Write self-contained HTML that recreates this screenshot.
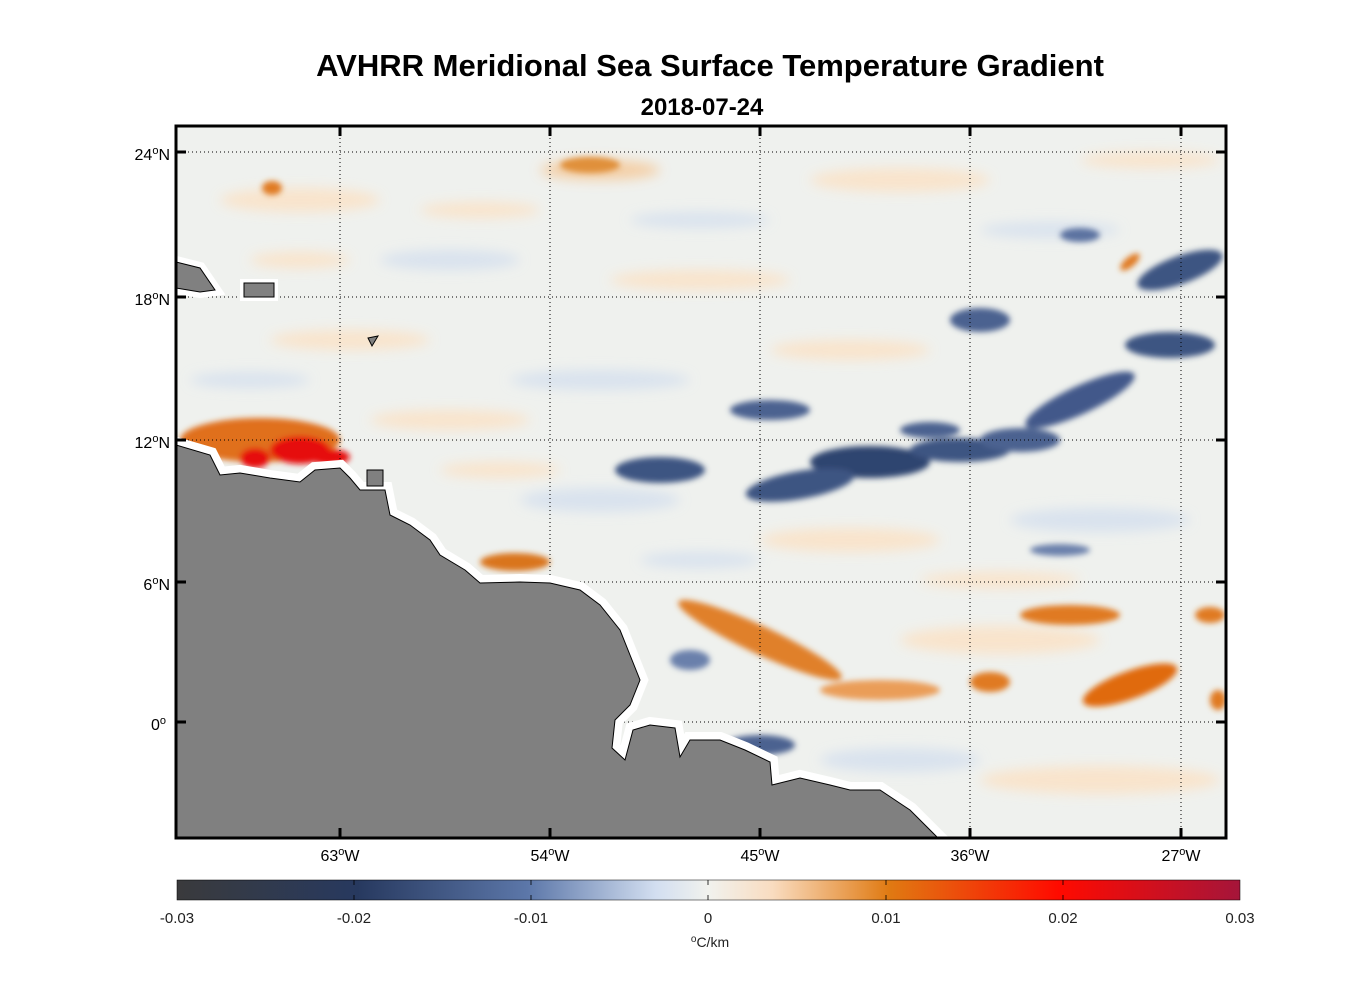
<!DOCTYPE html>
<html><head><meta charset="utf-8"><style>
body{margin:0;background:#fff;width:1356px;height:1000px;overflow:hidden;font-family:"Liberation Sans",sans-serif}
</style></head><body>
<svg width="1356" height="1000" viewBox="0 0 1356 1000" xmlns="http://www.w3.org/2000/svg" font-family="Liberation Sans, sans-serif">
<defs>
<filter id="b1" x="-50%" y="-50%" width="200%" height="200%"><feGaussianBlur stdDeviation="6"/></filter>
<filter id="b2" x="-50%" y="-50%" width="200%" height="200%"><feGaussianBlur stdDeviation="3"/></filter>
<clipPath id="c"><rect x="176" y="126" width="1050" height="712"/></clipPath>
<linearGradient id="cb" x1="0" x2="1">
<stop offset="0" stop-color="#3a3a3c"/><stop offset="0.17" stop-color="#27395f"/><stop offset="0.33" stop-color="#5c77a9"/>
<stop offset="0.45" stop-color="#d2def0"/><stop offset="0.5" stop-color="#f1f2ee"/><stop offset="0.56" stop-color="#f9dcc0"/>
<stop offset="0.67" stop-color="#e07a12"/><stop offset="0.83" stop-color="#ff0a00"/><stop offset="1" stop-color="#a5153a"/>
</linearGradient>
</defs>
<text x="710" y="76" text-anchor="middle" font-size="31" font-weight="bold">AVHRR Meridional Sea Surface Temperature Gradient</text>
<text x="702" y="115" text-anchor="middle" font-size="24" font-weight="bold">2018-07-24</text>
<g clip-path="url(#c)">
<rect x="176" y="126" width="1050" height="712" fill="#eff1ee"/>
<g filter="url(#b1)" opacity="0.85">
<ellipse cx="300" cy="200" rx="80" ry="12" fill="#fbe2c6"/>
<ellipse cx="600" cy="170" rx="60" ry="10" fill="#f5c99a"/>
<ellipse cx="900" cy="180" rx="90" ry="12" fill="#fbe2c6"/>
<ellipse cx="450" cy="260" rx="70" ry="10" fill="#d5e0ee"/>
<ellipse cx="700" cy="280" rx="90" ry="10" fill="#fbe2c6"/>
<ellipse cx="350" cy="340" rx="80" ry="10" fill="#fbe2c6"/>
<ellipse cx="600" cy="380" rx="90" ry="10" fill="#d5e0ee"/>
<ellipse cx="850" cy="350" rx="80" ry="10" fill="#fbe2c6"/>
<ellipse cx="450" cy="420" rx="80" ry="10" fill="#fbe2c6"/>
<ellipse cx="600" cy="500" rx="80" ry="12" fill="#d5e0ee"/>
<ellipse cx="850" cy="540" rx="90" ry="12" fill="#fbe2c6"/>
<ellipse cx="1100" cy="520" rx="90" ry="12" fill="#d5e0ee"/>
<ellipse cx="1000" cy="640" rx="100" ry="14" fill="#fbe2c6"/>
<ellipse cx="1100" cy="780" rx="120" ry="14" fill="#fbe2c6"/>
<ellipse cx="900" cy="760" rx="80" ry="12" fill="#d5e0ee"/>
<ellipse cx="480" cy="210" rx="60" ry="8" fill="#fbe2c6"/>
<ellipse cx="700" cy="220" rx="70" ry="8" fill="#d5e0ee"/>
<ellipse cx="1050" cy="230" rx="70" ry="8" fill="#d5e0ee"/>
<ellipse cx="250" cy="380" rx="60" ry="8" fill="#d5e0ee"/>
<ellipse cx="500" cy="470" rx="60" ry="8" fill="#fbe2c6"/>
<ellipse cx="1000" cy="580" rx="80" ry="8" fill="#fbe2c6"/>
<ellipse cx="700" cy="560" rx="60" ry="8" fill="#d5e0ee"/>
<ellipse cx="1150" cy="160" rx="70" ry="8" fill="#fbe2c6"/>
<ellipse cx="300" cy="260" rx="50" ry="8" fill="#fbe2c6"/>
</g>
<g filter="url(#b2)">
<ellipse cx="1180" cy="270" rx="45" ry="14" fill="#3e5482" transform="rotate(-20 1180 270)"/>
<ellipse cx="980" cy="320" rx="30" ry="12" fill="#4c6290"/>
<ellipse cx="1170" cy="345" rx="45" ry="13" fill="#3e5482"/>
<ellipse cx="1080" cy="400" rx="60" ry="14" fill="#42588a" transform="rotate(-25 1080 400)"/>
<ellipse cx="1080" cy="235" rx="20" ry="7" fill="#5c72a0"/>
<ellipse cx="770" cy="410" rx="40" ry="10" fill="#4c6290"/>
<ellipse cx="660" cy="470" rx="45" ry="13" fill="#3e5482"/>
<ellipse cx="870" cy="462" rx="60" ry="16" fill="#2f4470"/>
<ellipse cx="800" cy="485" rx="55" ry="14" fill="#3e5482" transform="rotate(-10 800 485)"/>
<ellipse cx="960" cy="450" rx="50" ry="12" fill="#3e5482"/>
<ellipse cx="1020" cy="440" rx="40" ry="12" fill="#4c6290"/>
<ellipse cx="930" cy="430" rx="30" ry="8" fill="#4c6290"/>
<ellipse cx="1060" cy="550" rx="30" ry="6" fill="#6b80ab"/>
<ellipse cx="760" cy="745" rx="35" ry="10" fill="#4c6290"/>
<ellipse cx="690" cy="660" rx="20" ry="10" fill="#6b80ab"/>
<ellipse cx="760" cy="640" rx="90" ry="14" fill="#e0802a" transform="rotate(25 760 640)"/>
<ellipse cx="880" cy="690" rx="60" ry="10" fill="#ea9d58"/>
<ellipse cx="1070" cy="615" rx="50" ry="10" fill="#e07a20"/>
<ellipse cx="1130" cy="685" rx="50" ry="14" fill="#e06a10" transform="rotate(-20 1130 685)"/>
<ellipse cx="990" cy="682" rx="20" ry="10" fill="#e07a20"/>
<ellipse cx="515" cy="562" rx="35" ry="9" fill="#d9741a"/>
<ellipse cx="590" cy="165" rx="30" ry="8" fill="#e0903a"/>
<ellipse cx="272" cy="188" rx="10" ry="7" fill="#e07a20"/>
<ellipse cx="1210" cy="615" rx="15" ry="8" fill="#e07a20"/>
<ellipse cx="1218" cy="700" rx="8" ry="10" fill="#e07a20"/>
<ellipse cx="1130" cy="262" rx="12" ry="5" fill="#e07a20" transform="rotate(-40 1130 262)"/>
<ellipse cx="260" cy="440" rx="80" ry="22" fill="#e0701a"/>
<ellipse cx="300" cy="450" rx="30" ry="14" fill="#e60a0a"/>
<ellipse cx="255" cy="458" rx="15" ry="10" fill="#e60a0a"/>
<ellipse cx="330" cy="457" rx="20" ry="8" fill="#e60a0a"/>
</g>
<g stroke="#000" stroke-width="1" stroke-dasharray="1,3">
<line x1="340" y1="126" x2="340" y2="838"/><line x1="550" y1="126" x2="550" y2="838"/><line x1="760" y1="126" x2="760" y2="838"/><line x1="970" y1="126" x2="970" y2="838"/><line x1="1181" y1="126" x2="1181" y2="838"/>
<line x1="176" y1="152" x2="1226" y2="152"/><line x1="176" y1="297" x2="1226" y2="297"/><line x1="176" y1="440" x2="1226" y2="440"/><line x1="176" y1="582" x2="1226" y2="582"/><line x1="176" y1="722" x2="1226" y2="722"/>
</g>
<path d="M176,445 L210,455 L220,475 L240,473 L270,478 L300,482 L315,470 L340,468 L350,478 L360,490 L385,490 L390,515 L410,525 L430,540 L440,555 L465,570 L480,583 L520,582 L550,583 L580,590 L600,605 L620,630 L630,655 L640,680 L630,705 L615,720 L612,748 L625,760 L633,730 L650,725 L675,728 L680,757 L690,740 L720,740 L745,750 L770,762 L772,785 L800,778 L830,785 L850,790 L880,790 L910,810 L930,830 L940,840 L176,840 Z" fill="#808080" stroke="#fff" stroke-width="16" stroke-linejoin="miter"/>
<path d="M176,445 L210,455 L220,475 L240,473 L270,478 L300,482 L315,470 L340,468 L350,478 L360,490 L385,490 L390,515 L410,525 L430,540 L440,555 L465,570 L480,583 L520,582 L550,583 L580,590 L600,605 L620,630 L630,655 L640,680 L630,705 L615,720 L612,748 L625,760 L633,730 L650,725 L675,728 L680,757 L690,740 L720,740 L745,750 L770,762 L772,785 L800,778 L830,785 L850,790 L880,790 L910,810 L930,830 L940,840 L176,840 Z" fill="#808080" stroke="#000" stroke-width="1"/>
<path d="M176,262 L200,268 L215,290 L200,292 L176,288 Z" fill="#808080" stroke="#fff" stroke-width="12"/>
<path d="M176,262 L200,268 L215,290 L200,292 L176,288 Z" fill="#808080" stroke="#000"/>
<rect x="244" y="283" width="30" height="14" fill="#808080" stroke="#fff" stroke-width="8"/>
<rect x="244" y="283" width="30" height="14" fill="#808080" stroke="#000"/>
<path d="M368,338 L378,336 L372,346 Z" fill="#808080" stroke="#000"/>
<rect x="367" y="470" width="16" height="16" fill="#808080" stroke="#000"/>
</g>
<rect x="176" y="126" width="1050" height="712" fill="none" stroke="#000" stroke-width="3"/>
<g stroke="#000" stroke-width="3">
<line x1="340" y1="126" x2="340" y2="136"/><line x1="550" y1="126" x2="550" y2="136"/><line x1="760" y1="126" x2="760" y2="136"/><line x1="970" y1="126" x2="970" y2="136"/><line x1="1181" y1="126" x2="1181" y2="136"/>
<line x1="340" y1="828" x2="340" y2="838"/><line x1="550" y1="828" x2="550" y2="838"/><line x1="760" y1="828" x2="760" y2="838"/><line x1="970" y1="828" x2="970" y2="838"/><line x1="1181" y1="828" x2="1181" y2="838"/>
<line x1="176" y1="152" x2="186" y2="152"/><line x1="176" y1="297" x2="186" y2="297"/><line x1="176" y1="440" x2="186" y2="440"/><line x1="176" y1="582" x2="186" y2="582"/><line x1="176" y1="722" x2="186" y2="722"/>
<line x1="1216" y1="152" x2="1226" y2="152"/><line x1="1216" y1="297" x2="1226" y2="297"/><line x1="1216" y1="440" x2="1226" y2="440"/><line x1="1216" y1="582" x2="1226" y2="582"/><line x1="1216" y1="722" x2="1226" y2="722"/>
</g>
<g font-size="16" text-anchor="end">
<text x="170" y="160">24<tspan dy="-6" font-size="11">o</tspan><tspan dy="6">N</tspan></text>
<text x="170" y="305">18<tspan dy="-6" font-size="11">o</tspan><tspan dy="6">N</tspan></text>
<text x="170" y="448">12<tspan dy="-6" font-size="11">o</tspan><tspan dy="6">N</tspan></text>
<text x="170" y="590">6<tspan dy="-6" font-size="11">o</tspan><tspan dy="6">N</tspan></text>
<text x="166" y="730">0<tspan dy="-6" font-size="11">o</tspan></text>
</g>
<g font-size="16" text-anchor="middle">
<text x="340" y="861">63<tspan dy="-6" font-size="11">o</tspan><tspan dy="6">W</tspan></text>
<text x="550" y="861">54<tspan dy="-6" font-size="11">o</tspan><tspan dy="6">W</tspan></text>
<text x="760" y="861">45<tspan dy="-6" font-size="11">o</tspan><tspan dy="6">W</tspan></text>
<text x="970" y="861">36<tspan dy="-6" font-size="11">o</tspan><tspan dy="6">W</tspan></text>
<text x="1181" y="861">27<tspan dy="-6" font-size="11">o</tspan><tspan dy="6">W</tspan></text>
</g>
<rect x="177" y="880" width="1063" height="20" fill="url(#cb)" stroke="#000" stroke-width="0.5"/>
<g stroke="#000" stroke-width="0.8">
<line x1="354" y1="880" x2="354" y2="885"/><line x1="531" y1="880" x2="531" y2="885"/><line x1="708" y1="880" x2="708" y2="885"/><line x1="886" y1="880" x2="886" y2="885"/><line x1="1063" y1="880" x2="1063" y2="885"/>
<line x1="354" y1="895" x2="354" y2="900"/><line x1="531" y1="895" x2="531" y2="900"/><line x1="708" y1="895" x2="708" y2="900"/><line x1="886" y1="895" x2="886" y2="900"/><line x1="1063" y1="895" x2="1063" y2="900"/>
</g>
<g font-size="15" text-anchor="middle" fill="#222">
<text x="177" y="923">-0.03</text><text x="354" y="923">-0.02</text><text x="531" y="923">-0.01</text><text x="708" y="923">0</text><text x="886" y="923">0.01</text><text x="1063" y="923">0.02</text><text x="1240" y="923">0.03</text>
<text x="710" y="947" font-size="14"><tspan dy="-5" font-size="10">o</tspan><tspan dy="5">C/km</tspan></text>
</g>
</svg>
</body></html>
